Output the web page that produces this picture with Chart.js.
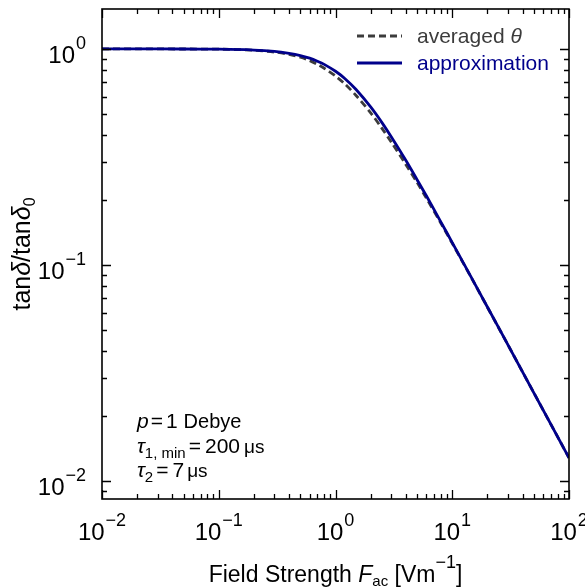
<!DOCTYPE html>
<html lang="en">
<head>
    <meta charset="utf-8"/>
    <title>tan delta vs field strength</title>
    <script src="https://cdn.jsdelivr.net/npm/chart.js"></script>
    <style>
        body { margin: 0; background: #ffffff; }
        #wrap { width: 585px; height: 588px; }
    </style>
</head>
<body>
<div id="wrap"><canvas id="chart" width="585" height="588"></canvas></div>
<script>
    // values (log-log)
    const fieldStrength = [0.01, 0.02, 0.05, 0.1, 0.2, 0.3, 0.4, 0.5, 0.6, 0.7, 0.8, 1.0, 1.2, 1.5, 2, 2.5, 3, 4, 5, 6, 8, 10, 15, 20, 30, 50, 70, 100];
    const approximation = [1.0, 1.0, 0.999, 0.997, 0.988, 0.974, 0.954, 0.932, 0.906, 0.877, 0.848, 0.788, 0.730, 0.649, 0.539, 0.456, 0.392, 0.305, 0.248, 0.209, 0.158, 0.127, 0.0851, 0.0639, 0.0427, 0.0256, 0.0183, 0.0128];
    const averagedTheta = [1.0, 1.0, 0.999, 0.997, 0.986, 0.967, 0.943, 0.915, 0.883, 0.847, 0.814, 0.749, 0.689, 0.609, 0.506, 0.429, 0.371, 0.292, 0.241, 0.204, 0.156, 0.126, 0.0849, 0.0638, 0.0427, 0.0256, 0.0183, 0.0128];
    const xDecades = [-2, -1, 0, 1, 2];
    const yDecades = [-2, -1, 0];

    const FONT = '"Liberation Sans", Arial, sans-serif';

    function pts(ys) {
        return fieldStrength.map((x, i) => ({ x: x, y: ys[i] }));
    }

    // draw a run of text pieces: {t, size, dy, it, gap}
    function rich(ctx, parts, x, y, align) {
        let w = 0;
        parts.forEach(p => {
            ctx.font = (p.it ? 'italic ' : '') + p.size + 'px ' + FONT;
            p.w = ctx.measureText(p.t).width + (p.gap || 0);
            w += p.w;
        });
        let cx = align === 'center' ? x - w / 2 : (align === 'right' ? x - w : x);
        ctx.textAlign = 'left';
        ctx.textBaseline = 'alphabetic';
        parts.forEach(p => {
            ctx.font = (p.it ? 'italic ' : '') + p.size + 'px ' + FONT;
            if (p.color) ctx.fillStyle = p.color;
            ctx.fillText(p.t, cx, y + (p.dy || 0));
            cx += p.w;
        });
        return w;
    }

    function pow10(k, big, small) {
        return [{ t: '10', size: big, gap: 1 }, { t: k < 0 ? '\u2212' + (-k) : String(k), size: small, dy: -14 }];
    }

    const framePlugin = {
        id: 'frame',
        afterDraw(chart) {
            const ctx = chart.ctx;
            const a = chart.chartArea;
            const xs = chart.scales.x, ys = chart.scales.y;
            ctx.save();
            ctx.strokeStyle = '#000';
            ctx.fillStyle = '#000';

            // ticks, inward on all four sides
            ctx.lineWidth = 1.3;
            ctx.beginPath();
            for (let k = -2; k <= 2; k++) {
                for (let m = 1; m <= 9; m++) {
                    const v = m * Math.pow(10, k);
                    if (v < xs.min || v > xs.max) continue;
                    const px = Math.round(xs.getPixelForValue(v)) + 0.5;
                    const len = m === 1 ? 9 : 5;
                    ctx.moveTo(px, a.bottom); ctx.lineTo(px, a.bottom - len);
                    ctx.moveTo(px, a.top); ctx.lineTo(px, a.top + len);
                }
            }
            for (let k = -3; k <= 0; k++) {
                for (let m = 1; m <= 9; m++) {
                    const v = m * Math.pow(10, k);
                    if (v < ys.min || v > ys.max) continue;
                    const py = Math.round(ys.getPixelForValue(v)) + 0.5;
                    const len = m === 1 ? 9 : 5;
                    ctx.moveTo(a.left, py); ctx.lineTo(a.left + len, py);
                    ctx.moveTo(a.right, py); ctx.lineTo(a.right - len, py);
                }
            }
            ctx.stroke();

            ctx.lineWidth = 1.6;
            ctx.strokeRect(a.left, a.top, a.right - a.left, a.bottom - a.top);

            // tick labels
            xDecades.forEach(k => {
                const px = xs.getPixelForValue(Math.pow(10, k));
                rich(ctx, pow10(k, 24, 18), px, a.bottom + 41, 'center');
            });
            yDecades.forEach(k => {
                const py = ys.getPixelForValue(Math.pow(10, k));
                rich(ctx, pow10(k, 24, 18), 86, py + 14, 'right');
            });

            // axis titles
            rich(ctx, [
                { t: 'Field Strength ', size: 23 },
                { t: 'F', size: 23, it: true },
                { t: 'ac', size: 15, dy: 4 },
                { t: ' [Vm', size: 23 },
                { t: '\u22121', size: 18, dy: -14 },
                { t: ']', size: 23 }
            ], (a.left + a.right) / 2, 582, 'center');

            ctx.save();
            ctx.translate(30, (a.top + a.bottom) / 2);
            ctx.rotate(-Math.PI / 2);
            rich(ctx, [
                { t: 'tan', size: 25 },
                { t: '\u03b4', size: 25, it: true },
                { t: '/tan', size: 25 },
                { t: '\u03b4', size: 25, it: true },
                { t: '0', size: 16, dy: 5 }
            ], 0, 0, 'center');
            ctx.restore();

            // legend
            const ds = chart.data.datasets;
            const rows = [ds[1], ds[0]];
            rows.forEach((d, i) => {
                const y = 36 + i * 27;
                ctx.save();
                ctx.strokeStyle = d.borderColor;
                ctx.lineWidth = d.borderWidth;
                ctx.setLineDash(d.borderDash || []);
                ctx.beginPath();
                ctx.moveTo(357, y); ctx.lineTo(402, y);
                ctx.stroke();
                ctx.restore();
                if (d.label === 'averaged') {
                    rich(ctx, [{ t: 'averaged ', size: 21, color: d.legendText }, { t: '\u03b8', size: 21, it: true, color: d.legendText }], 417, y + 7, 'left');
                } else {
                    rich(ctx, [{ t: d.label, size: 21, color: d.legendText }], 417, y + 7, 'left');
                }
            });

            // parameter note
            ctx.fillStyle = '#000';
            rich(ctx, [
                { t: 'p', size: 21, it: true, gap: 2, color: '#000' },
                { t: '=', size: 21, gap: 3 },
                { t: '1', size: 21, gap: 6 },
                { t: 'Debye', size: 20 }
            ], 137, 428, 'left');
            rich(ctx, [
                { t: '\u03c4', size: 21, it: true },
                { t: '1, min', size: 15, dy: 5, gap: 3 },
                { t: '=', size: 21, gap: 4 },
                { t: '200', size: 21, gap: 4 },
                { t: '\u03bcs', size: 19 }
            ], 137, 453, 'left');
            rich(ctx, [
                { t: '\u03c4', size: 21, it: true },
                { t: '2', size: 15, dy: 5, gap: 3 },
                { t: '=', size: 21, gap: 4 },
                { t: '7', size: 21, gap: 3 },
                { t: '\u03bcs', size: 19 }
            ], 137, 477, 'left');

            ctx.restore();
        }
    };

    new Chart(document.getElementById('chart').getContext('2d'), {
        type: 'line',
        data: {
            datasets: [{
                label: 'approximation',
                data: pts(approximation),
                borderColor: '#00008b',
                legendText: '#00008b',
                borderWidth: 2.8,
                pointRadius: 0,
                tension: 0.3,
                order: 0
            }, {
                label: 'averaged',
                data: pts(averagedTheta),
                borderColor: '#3c3c3c',
                legendText: '#3c3c3c',
                borderWidth: 2.8,
                borderDash: [7, 4],
                pointRadius: 0,
                tension: 0.3,
                order: 1
            }]
        },
        options: {
            responsive: false,
            animation: false,
            layout: { padding: { left: 102, right: 16, top: 9, bottom: 89 } },
            plugins: { legend: { display: false }, tooltip: { enabled: false } },
            scales: {
                x: { type: 'logarithmic', display: false, min: 0.01, max: 100 },
                y: { type: 'logarithmic', display: false, min: 0.00826, max: 1.53 }
            }
        },
        plugins: [framePlugin]
    });
</script>
</body>
</html>
